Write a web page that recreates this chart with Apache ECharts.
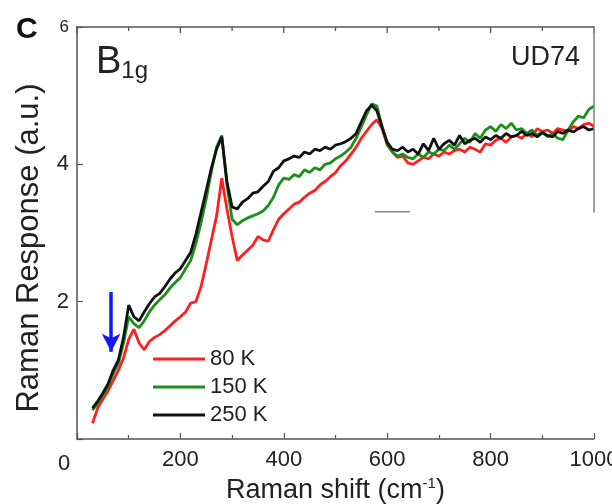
<!DOCTYPE html>
<html><head><meta charset="utf-8">
<script src="https://cdn.jsdelivr.net/npm/echarts@6/dist/echarts.min.js"></script>
<style>html,body{margin:0;padding:0;background:#fff}#c{width:612px;height:504px}</style>
</head><body><div id="c"></div>
<script>
const shifts = [];
for (let s = 30; s <= 1000; s += 10) shifts.push(s);
const k80 = [0.23,0.45,0.58,0.70,0.85,1.00,1.18,1.45,1.60,1.40,1.30,1.42,1.48,1.52,1.58,1.65,1.72,1.78,1.85,1.98,2.00,2.22,2.55,2.90,3.25,3.80,3.35,2.95,2.60,2.68,2.75,2.82,2.95,2.90,2.88,3.05,3.20,3.28,3.35,3.42,3.45,3.52,3.58,3.62,3.70,3.75,3.82,3.88,3.98,4.05,4.15,4.25,4.38,4.48,4.58,4.65,4.52,4.28,4.18,4.10,4.12,4.02,4.00,4.05,4.10,4.08,4.15,4.12,4.18,4.15,4.20,4.22,4.18,4.25,4.22,4.18,4.30,4.28,4.35,4.38,4.32,4.40,4.42,4.38,4.45,4.40,4.52,4.48,4.50,4.45,4.52,4.50,4.48,4.55,4.52,4.58,4.60,4.55];
const k150 = [0.42,0.52,0.63,0.76,0.95,1.10,1.40,1.78,1.68,1.62,1.72,1.85,1.95,2.03,2.10,2.20,2.28,2.35,2.48,2.60,2.85,3.15,3.50,3.90,4.25,4.42,3.70,3.20,3.12,3.18,3.22,3.25,3.28,3.32,3.40,3.52,3.70,3.80,3.78,3.85,3.82,3.92,3.88,3.95,3.92,4.00,4.02,4.08,4.12,4.18,4.25,4.38,4.55,4.72,4.88,4.85,4.55,4.30,4.18,4.12,4.15,4.10,4.08,4.15,4.10,4.18,4.15,4.22,4.20,4.28,4.22,4.30,4.38,4.32,4.45,4.38,4.50,4.55,4.48,4.58,4.52,4.60,4.50,4.52,4.45,4.50,4.42,4.48,4.40,4.45,4.38,4.36,4.50,4.62,4.70,4.68,4.80,4.85];
const k250 = [0.45,0.55,0.67,0.80,1.00,1.15,1.48,1.95,1.78,1.72,1.85,1.97,2.07,2.12,2.22,2.33,2.42,2.48,2.60,2.72,2.98,3.30,3.62,3.95,4.22,4.40,3.75,3.38,3.35,3.45,3.50,3.58,3.60,3.68,3.75,3.90,3.95,4.05,4.08,4.12,4.10,4.18,4.15,4.22,4.20,4.25,4.22,4.28,4.30,4.33,4.38,4.45,4.62,4.78,4.86,4.78,4.55,4.32,4.22,4.20,4.25,4.18,4.22,4.15,4.30,4.20,4.38,4.22,4.30,4.35,4.28,4.42,4.30,4.35,4.38,4.32,4.40,4.36,4.42,4.38,4.45,4.40,4.42,4.48,4.42,4.45,4.40,4.46,4.42,4.40,4.48,4.45,4.50,4.47,4.52,4.55,4.50,4.52];
const seriesNames = ['80 K','150 K','250 K'];
const seriesColors = ['#ff1f1f','#1a8f1a','#111111'];
const xTicks = [0,200,400,600,800,1000];
const xMinorTicks = [100,300,500,700,900];
const yTicks = [2,4,6];
const arrowX = 66, arrowTop = 2.14, arrowTip = 1.27;

const F = '"Liberation Sans", Arial, sans-serif';
const pair = (ys) => shifts.map((s, i) => [s, ys[i]]);
const chart = echarts.init(document.getElementById('c'));
const mkLine = () => ({show: true, onZero: false, lineStyle: {color: '#555', width: 1.5}});
const mkTick = () => ({show: true, inside: true, length: 6, lineStyle: {color: '#555', width: 1.2}});
const mkMinor = () => ({show: true, splitNumber: 2, length: 4, lineStyle: {color: '#555', width: 1.2}});
const series = [k80, k150, k250].map((d, i) => ({
  name: seriesNames[i], type: 'line', data: pair(d), showSymbol: false,
  lineStyle: {color: seriesColors[i], width: 2.8}, itemStyle: {color: seriesColors[i]}
}));
series.push({
  type: 'line', data: [], silent: true,
  markLine: {
    silent: true, symbol: ['none', 'arrow'], symbolSize: [14, 18], label: {show: false},
    lineStyle: {color: '#1414ff', width: 3.5, type: 'solid'},
    data: [[{coord: [arrowX, arrowTop]}, {coord: [arrowX, arrowTip]}]]
  }
});
chart.setOption({
  animation: false,
  grid: {left: 77, right: 18, top: 27, bottom: 65, outerBoundsMode: 'none', containLabel: false},
  legend: {
    data: seriesNames, orient: 'vertical', left: 148, top: 343, itemGap: 6,
    icon: 'rect', itemWidth: 52, itemHeight: 3,
    textStyle: {fontFamily: F, fontSize: 22, color: '#222'}
  },
  xAxis: [{
    type: 'value', min: 0, max: 1000, interval: 200, position: 'bottom',
    axisLine: mkLine(), axisTick: mkTick(), minorTick: mkMinor(),
    splitLine: {show: false},
    axisLabel: {fontFamily: F, fontSize: 22, color: '#222', margin: 10,
      formatter: v => (v === 0 ? '' : (xTicks.includes(v) ? String(v) : ''))},
    name: 'Raman shift (cm{sup|-1})', nameLocation: 'middle', nameGap: 36,
    nameTextStyle: {fontFamily: F, fontSize: 27, color: '#222',
      rich: {sup: {fontFamily: F, fontSize: 15, verticalAlign: 'top', padding: [0, 0, 14, 0], color: '#222'}}}
  }],
  yAxis: [{
    type: 'value', min: 0, max: 6, interval: 2,
    axisLine: mkLine(), axisTick: mkTick(),
    splitLine: {show: false},
    axisLabel: {fontFamily: F, fontSize: 22, color: '#222', margin: 8,
      formatter: v => (v === 6 ? '{s|6}' : (yTicks.includes(v) ? String(v) : '')),
      rich: {s: {fontFamily: F, fontSize: 17, color: '#222'}}},
    name: 'Raman Response (a.u.)', nameLocation: 'middle', nameGap: 32,
    nameTextStyle: {fontFamily: F, fontSize: 31, color: '#222', padding: [0, 30, 0, 0]}
  }],
  series
});
// frame pieces placed through the axes' scale, on a separate top layer
const px = (x, y) => chart.convertToPixel({xAxisIndex: 0, yAxisIndex: 0}, [x, y]);
const rectLine = (a, b, color, w) => {
  const x = Math.min(a[0], b[0]), y = Math.min(a[1], b[1]);
  const horiz = Math.abs(a[1] - b[1]) < 0.5;
  return {type: 'rect', zlevel: 5, z: 100, silent: true,
    shape: horiz ? {x: x, y: y - w / 2, width: Math.abs(b[0] - a[0]), height: w}
                 : {x: x - w / 2, y: y, width: w, height: Math.abs(b[1] - a[1])},
    style: {fill: color}};
};
const g = [
  {type: 'text', left: 16, top: 15, style: {text: 'C', font: 'bold 30px ' + F, fill: '#111'}},
  {type: 'text', left: 58, top: 453, style: {text: '0', font: '22px ' + F, fill: '#222'}},
  {type: 'text', left: 96, top: 44, style: {text: '{b|B}{s|1g}',
    rich: {b: {fontFamily: F, fontSize: 38, fill: '#222'}, s: {fontFamily: F, fontSize: 24, fill: '#222', padding: [16, 0, 0, 0]}}}},
  {type: 'text', right: 32, top: 44, style: {text: 'UD74', font: '27px ' + F, fill: '#222'}}
];
const tl = px(0, 6), tr = px(1000, 6);
g.push(rectLine([tl[0] - 0.75, tl[1]], [tr[0] + 0.75, tr[1]], '#555', 1.6));
xTicks.forEach(v => { const p = px(v, 6); g.push(rectLine([p[0], p[1]], [p[0], p[1] + 6], '#555', 1.3)); });
xMinorTicks.forEach(v => { const p = px(v, 6); g.push(rectLine([p[0], p[1]], [p[0], p[1] + 4], '#555', 1.3)); });
g.push(rectLine(px(1000, 3.3), px(1000, 6), '#888', 1.6));
g.push(rectLine(px(576, 3.31), px(644, 3.31), '#888', 1.6));
chart.setOption({graphic: g});
</script></body></html>
